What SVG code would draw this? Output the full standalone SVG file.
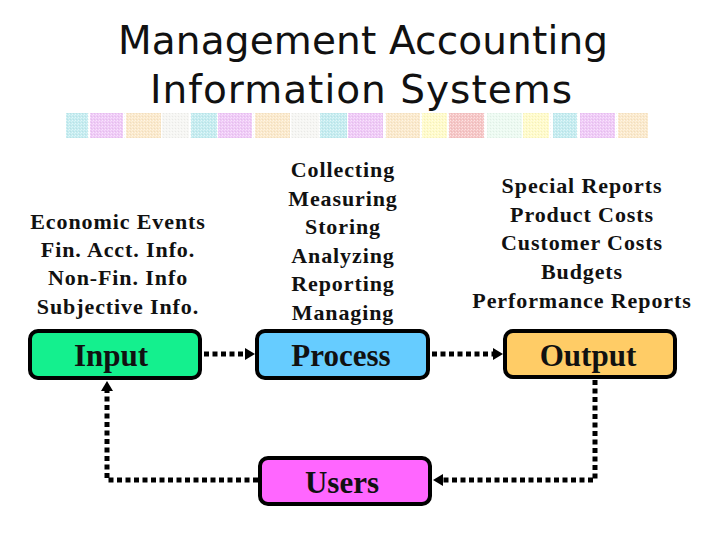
<svg xmlns="http://www.w3.org/2000/svg" width="720" height="540" viewBox="0 0 720 540">
<defs>
<style>
.title{font-family:"DejaVu Sans",Verdana,sans-serif;font-size:39px;fill:#111;text-anchor:middle}
.list{font-family:"Liberation Serif","Times New Roman",serif;font-size:22px;font-weight:bold;fill:#111;text-anchor:middle;letter-spacing:0.9px}
.lbl{font-family:"Liberation Serif","Times New Roman",serif;font-size:31px;font-weight:bold;fill:#111;text-anchor:middle}
.box{stroke:#000;stroke-width:4}
.conn{fill:none;stroke:#000;stroke-width:5;stroke-dasharray:5 3.5}
.c{fill:#c4ecf0}.v{fill:#efc9f7}.p{fill:#fbe9cb}.f{fill:#f6f6f3}.y{fill:#fffbc9}.s{fill:#f6c5c5}.m{fill:#ecfaf1}
</style>
<marker id="arrow" viewBox="0 0 10 12" markerWidth="10" markerHeight="12" markerUnits="userSpaceOnUse" refX="0" refY="6" orient="auto">
<path d="M0,0 L10,6 L0,12 z" fill="#000"/>
</marker>
<pattern id="tex" width="3" height="3" patternUnits="userSpaceOnUse">
<rect x="0" y="0" width="1" height="1" fill="#fff" opacity="0.55"/>
<rect x="2" y="1" width="1" height="1" fill="#fff" opacity="0.35"/>
<rect x="1" y="2" width="1" height="1" fill="#000" opacity="0.05"/>
</pattern>
</defs>
<rect width="720" height="540" fill="#fff"/>
<g id="title">
<text class="title" x="363" y="54" textLength="490" lengthAdjust="spacing">Management Accounting</text>
<text class="title" x="361" y="103" textLength="422" lengthAdjust="spacing">Information Systems</text>
</g>
<g id="strip">
<rect class="c" x="66" y="113" width="22" height="25"/>
<rect class="v" x="90" y="113" width="33" height="25"/>
<rect class="p" x="126" y="113" width="35" height="25"/>
<rect class="f" x="162" y="113" width="27" height="25"/>
<rect class="c" x="191" y="113" width="26" height="25"/>
<rect class="v" x="218" y="113" width="34" height="25"/>
<rect class="p" x="255" y="113" width="35" height="25"/>
<rect class="f" x="291" y="113" width="28" height="25"/>
<rect class="c" x="320" y="113" width="27" height="25"/>
<rect class="v" x="348" y="113" width="35" height="25"/>
<rect class="p" x="386" y="113" width="34" height="25"/>
<rect class="y" x="422" y="113" width="25" height="25"/>
<rect class="s" x="449" y="113" width="35" height="25"/>
<rect class="m" x="487" y="113" width="35" height="25"/>
<rect class="y" x="523" y="113" width="26" height="25"/>
<rect class="c" x="553" y="113" width="24" height="25"/>
<rect class="v" x="580" y="113" width="35" height="25"/>
<rect class="p" x="618" y="113" width="30" height="25"/>
<rect x="66" y="113" width="582" height="25" fill="url(#tex)"/>
</g>
<g id="input-list">
<text class="list" x="118" y="229">Economic Events</text>
<text class="list" x="118" y="257">Fin. Acct. Info.</text>
<text class="list" x="118" y="285">Non-Fin. Info</text>
<text class="list" x="118" y="314">Subjective Info.</text>
</g>
<g id="process-list">
<text class="list" x="343" y="177">Collecting</text>
<text class="list" x="343" y="206">Measuring</text>
<text class="list" x="343" y="234">Storing</text>
<text class="list" x="343" y="263">Analyzing</text>
<text class="list" x="343" y="291">Reporting</text>
<text class="list" x="343" y="320">Managing</text>
</g>
<g id="output-list">
<text class="list" x="582" y="193">Special Reports</text>
<text class="list" x="582" y="222">Product Costs</text>
<text class="list" x="582" y="250">Customer Costs</text>
<text class="list" x="582" y="279">Budgets</text>
<text class="list" x="582" y="308">Performance Reports</text>
</g>
<g id="connectors">
<path class="conn" d="M204,354 H245" marker-end="url(#arrow)"/>
<path class="conn" d="M432,354 H493" marker-end="url(#arrow)"/>
<path class="conn" d="M595,380 V480 H443" marker-end="url(#arrow)"/>
<path class="conn" d="M258,480 H107 V391" marker-end="url(#arrow)"/>
</g>
<g id="input">
<rect class="box" x="30" y="331" width="170" height="47" rx="8" fill="#14f08e"/>
<text class="lbl" x="111" y="366">Input</text>
</g>
<g id="process">
<rect class="box" x="257" y="331" width="171" height="47" rx="8" fill="#66ccff"/>
<text class="lbl" x="341" y="366">Process</text>
</g>
<g id="output">
<rect class="box" x="505" y="331" width="170" height="46" rx="8" fill="#ffcc66"/>
<text class="lbl" x="588" y="366">Output</text>
</g>
<g id="users">
<rect class="box" x="260" y="458" width="170" height="46" rx="8" fill="#ff66ff"/>
<text class="lbl" x="342" y="493">Users</text>
</g>
</svg>
